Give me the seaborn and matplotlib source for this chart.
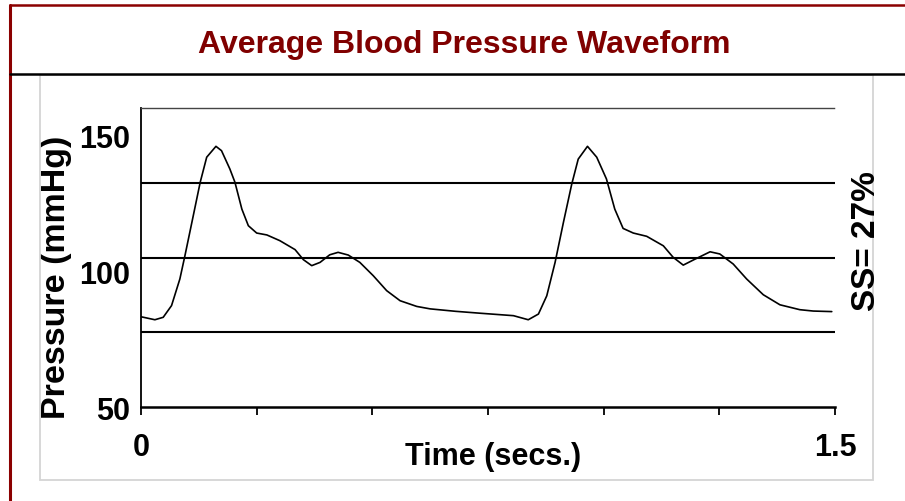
import numpy as np
import pandas as pd
import matplotlib
matplotlib.use("Agg")
import matplotlib.pyplot as plt
import seaborn as sns
from matplotlib.patches import Rectangle
from matplotlib.lines import Line2D

# --- data ---
time_s = [0.000, 0.030, 0.048, 0.066, 0.084, 0.095, 0.113, 0.128, 0.142, 0.162,
          0.174, 0.192, 0.203, 0.218, 0.232, 0.250, 0.272, 0.300, 0.333, 0.351,
          0.369, 0.387, 0.408, 0.426, 0.448, 0.473, 0.502, 0.531, 0.560, 0.596,
          0.625, 0.680, 0.733, 0.805, 0.837, 0.859, 0.877, 0.895, 0.913, 0.931,
          0.945, 0.965, 0.985, 1.006, 1.024, 1.042, 1.064, 1.093, 1.129, 1.150,
          1.172, 1.194, 1.230, 1.251, 1.280, 1.309, 1.345, 1.381, 1.424, 1.453,
          1.493]
pressure_mmhg = [83.2, 82.1, 83.0, 87.3, 97.1, 105.7, 120.4, 132.7, 141.9, 145.9,
                 144.3, 137.6, 132.7, 122.8, 116.7, 114.0, 113.3, 111.2, 107.9, 104.2,
                 102.0, 103.2, 106.0, 106.9, 105.9, 103.2, 98.3, 92.8, 89.1, 87.0,
                 86.1, 85.2, 84.5, 83.6, 82.1, 84.2, 90.9, 103.2, 117.9, 132.0,
                 141.2, 145.9, 141.9, 133.9, 122.8, 115.7, 114.0, 112.8, 109.3, 105.1,
                 102.2, 104.1, 107.1, 106.3, 102.6, 97.1, 91.3, 87.6, 85.8, 85.3,
                 85.1]

y_tick_labels = [50, 100, 150]
x_tick_labels = ["0", "", "", "", "", "", "1.5"]
title = "Average Blood Pressure Waveform"
annotation = "SS= 27%"

df = pd.DataFrame({"time": time_s, "pressure": pressure_mmhg})

sns.set_style("white")
plt.rcParams["font.family"] = ["Liberation Sans", "DejaVu Sans"]
plt.rcParams["font.weight"] = "bold"
plt.rcParams["text.color"] = "black"
plt.rcParams["axes.labelcolor"] = "black"
plt.rcParams["xtick.color"] = "black"
plt.rcParams["ytick.color"] = "black"

W, H = 905, 502
fig = plt.figure(figsize=(W / 100, H / 100), dpi=100)

# frame decorations (pixel coords -> figure fraction)
def fx(px):
    return px / W

def fy(py):
    return 1 - py / H

# dark red outer border, only top and left edges are visible
fig.lines.append(Line2D([fx(10), 1.0], [fy(5.5), fy(5.5)], transform=fig.transFigure,
                        color="#8B0000", lw=1.8))
fig.lines.append(Line2D([fx(10), fx(10)], [fy(5.5), 0.0], transform=fig.transFigure,
                        color="#8B0000", lw=2.2))
# black rule under the title
fig.lines.append(Line2D([fx(10), 1.0], [fy(75), fy(75)], transform=fig.transFigure,
                        color="black", lw=1.8))
# light gray inner panel
fig.patches.append(Rectangle((fx(40), fy(481)), fx(873) - fx(40), fy(76) - fy(481),
                             transform=fig.transFigure, fill=False,
                             edgecolor="#d4d4d4", lw=1.3, zorder=0))

fig.text(fx(464), fy(45), title, ha="center", va="center",
         color="#800000", fontsize=23, fontweight="bold")

ax = fig.add_axes([fx(141), fy(408), fx(835) - fx(141), fy(109) - fy(408)])
ax.set_facecolor("none")

sns.lineplot(data=df, x="time", y="pressure", ax=ax, color="black", lw=1.2)

ax.set_xlim(0, 1.5)
ax.set_ylim(50, 160)

ax.set_xticks(np.arange(0, 1.51, 0.25))
ax.set_xticklabels(x_tick_labels)
ax.set_yticks(y_tick_labels)
ax.set_yticklabels([str(v) for v in y_tick_labels])
ax.set_yticks(np.arange(77.5, 160, 27.5), minor=True)

ax.tick_params(axis="x", bottom=True, direction="out", length=6, width=1.3,
               color="black", labelsize=22, pad=12)
ax.tick_params(axis="y", which="both", left=False, length=0, labelsize=22, pad=8)
for lbl in ax.get_xticklabels() + ax.get_yticklabels():
    lbl.set_fontweight("bold")

ax.grid(False)
ax.grid(which="minor", axis="y", color="black", lw=1.5)

ax.spines["right"].set_visible(False)
ax.spines["left"].set_color("black")
ax.spines["left"].set_linewidth(1.3)
ax.spines["bottom"].set_color("black")
ax.spines["bottom"].set_linewidth(1.8)
ax.spines["top"].set_color("#444444")
ax.spines["top"].set_linewidth(1.0)
ax.spines["top"].set_linestyle((0, (3, 1)))

ax.set_xlabel("Time (secs.)", fontsize=22, fontweight="bold")
ax.xaxis.set_label_coords((493 - 141) / 694, (408 - 457) / 299)
ax.xaxis.label.set_va("center")
ax.set_ylabel("Pressure (mmHg)", fontsize=24.5, fontweight="bold")
ax.yaxis.set_label_coords((56 - 141) / 694, (408 - 277) / 299)
ax.yaxis.label.set_va("center")

fig.text(fx(866), fy(241), annotation, rotation=90, ha="center", va="center",
         fontsize=24, fontweight="bold")

fig.savefig("out.png", dpi=100)
